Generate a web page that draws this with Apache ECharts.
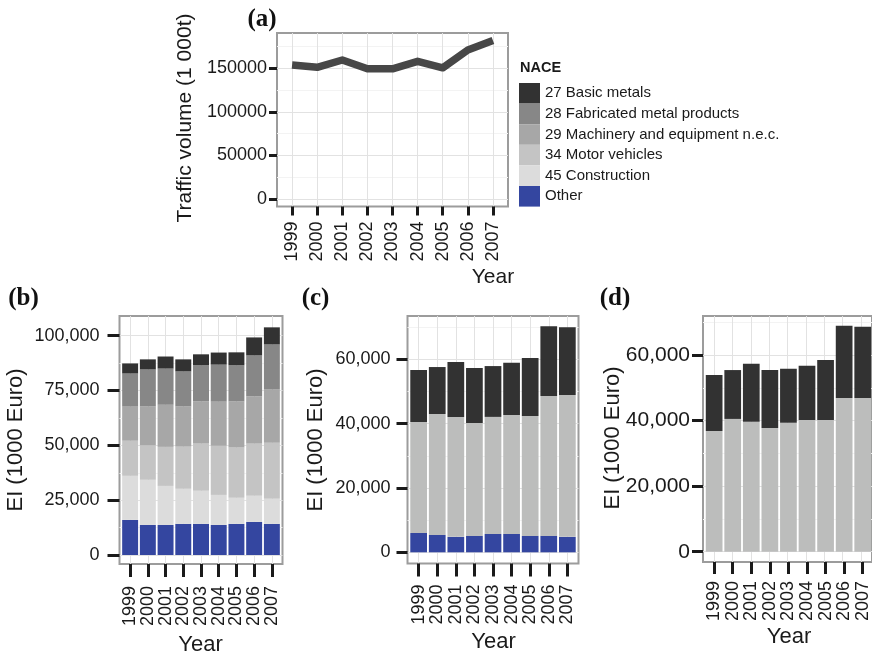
<!DOCTYPE html>
<html>
<head>
<meta charset="utf-8">
<script src="https://cdn.jsdelivr.net/npm/echarts@6/dist/echarts.min.js"></script>
<style>
  html, body { margin: 0; padding: 0; background: #ffffff; }
  #chart { width: 872px; height: 655px; }
</style>
</head>
<body>
<div id="chart"></div>
<script>
// ---- data ----
const years = ['1999', '2000', '2001', '2002', '2003', '2004', '2005', '2006', '2007'];

// (a) traffic volume, 1 000 t
const trafficVolume = [153800, 151100, 159500, 149400, 149400, 158000, 150500, 171000, 181900];
const trafficTicks = [0, 50000, 100000, 150000];
const trafficMinor = [25000, 75000, 125000, 175000];

// NACE sectors (legend order)
const naceNames = ['27 Basic metals', '28 Fabricated metal products', '29 Machinery and equipment n.e.c.',
                   '34 Motor vehicles', '45 Construction', 'Other'];

// (b) EI by sector, 1000 Euro
const bOther        = [16000, 13700, 13700, 14200, 14200, 13700, 14200, 15100, 14200];
const bConstruction = [20100, 20600, 17800, 16000, 15100, 13700, 11900, 11900, 11400];
const bMotor        = [16000, 15700, 17800, 19200, 21500, 22400, 22900, 23800, 25600];
const bMachinery    = [15550, 17700, 19200, 18300, 19200, 20100, 21000, 21500, 24200];
const bFabricated   = [15100, 16900, 16500, 16000, 16500, 16900, 16500, 18700, 20600];
const bBasic        = [4600, 4600, 5500, 5500, 5000, 5500, 5900, 8200, 7800];
const bTicks = [0, 25000, 50000, 75000, 100000];
const bMinor = [12500, 37500, 62500, 87500];

// (c) EI, 1000 Euro
const cOther = [6000, 5400, 4800, 5100, 5700, 5700, 5100, 5100, 4800];
const cMotor = [34500, 37600, 37300, 35100, 36400, 37000, 37300, 43500, 44100];
const cBasic = [16200, 14600, 17100, 17100, 15800, 16200, 18000, 21700, 21100];

// (d) EI, 1000 Euro
const dMotor = [36800, 40500, 39600, 37700, 39300, 40200, 40200, 46900, 46900];
const dBasic = [17100, 14900, 17700, 17700, 16500, 16500, 18300, 22000, 21700];

const cdTicks = [0, 20000, 40000, 60000];
const cdMinor = [10000, 30000, 50000, 70000];

// ---- styling ----
const SANS = "'Liberation Sans', Arial, Helvetica, sans-serif";
const SERIF = "'Liberation Serif', 'Times New Roman', serif";
const INK = '#1a1a1a';
const colors = {
  basic: '#323232', fabricated: '#878787', machinery: '#a7a7a7',
  motor: '#c4c4c4', construction: '#dcdcdc', other: '#3446a0', grey: '#bcbdbc'
};

const yearIdx = years.map((_, i) => i);
const withComma = v => String(Math.round(v)).replace(/\B(?=(\d{3})+(?!\d))/g, ',');

// Panel rectangles (outer frame). Categories sit 0.6 of a band in from each side,
// so the band area used by the category axis is width * 9 / 9.2.
const panels = [
  { left: 277,   top: 33,  width: 231, height: 173.5, yMin: -8600, yMax: 190500 },  // (a)
  { left: 119.5, top: 316, width: 163, height: 248,   yMin: -4100, yMax: 108970 },  // (b)
  { left: 407.5, top: 316, width: 171, height: 247.5, yMin: -3480, yMax: 73470 },   // (c)
  { left: 703,   top: 316, width: 171, height: 246,   yMin: -3140, yMax: 71890 }    // (d)
];
const EXPAND = 0.6;
const nCat = years.length;

const outerGrids = panels.map(p => ({
  left: p.left, top: p.top, width: p.width, height: p.height,
  show: true, backgroundColor: '#ffffff', borderColor: '#9c9c9c', borderWidth: 2
}));
const innerGrids = panels.map(p => {
  const band = p.width / (nCat - 1 + 2 * EXPAND);
  const inset = (EXPAND - 0.5) * band;
  return { left: p.left + inset, top: p.top, width: p.width - 2 * inset, height: p.height, show: false };
});

// outer x axis: only the vertical grid lines at the category centres
function xOuter(gridIndex) {
  return {
    type: 'value', gridIndex, min: -EXPAND, max: nCat - 1 + EXPAND,
    axisLine: { show: false, onZero: false },
    axisTick: { show: false, customValues: yearIdx },
    axisLabel: { show: false, customValues: yearIdx },
    splitLine: { show: true, lineStyle: { color: '#e2e2e2', width: 1 } }
  };
}
// inner category axis: carries the data, ticks and year labels
function xInner(gridIndex, tickLen, margin) {
  return {
    type: 'category', gridIndex, data: years, boundaryGap: true,
    axisLine: { show: false, onZero: false },
    axisTick: { show: true, alignWithLabel: true, interval: 0, length: tickLen, lineStyle: { color: INK, width: 3 } },
    axisLabel: { interval: 0, rotate: 90, margin, fontSize: 18, color: INK, fontFamily: SANS, hideOverlap: false },
    splitLine: { show: false }
  };
}

function yMajor(gridIndex, p, ticks, fmt, tickLen, margin, fontSize) {
  return {
    type: 'value', gridIndex, min: p.yMin, max: p.yMax,
    axisLine: { show: false, onZero: false },
    axisTick: { show: true, length: tickLen, customValues: ticks, lineStyle: { color: INK, width: 3 } },
    axisLabel: { customValues: ticks, margin, fontSize, color: INK, fontFamily: SANS, formatter: fmt,
                 showMinLabel: true, showMaxLabel: true },
    splitLine: { show: true, lineStyle: { color: '#e2e2e2', width: 1 } }
  };
}
function yMinor(gridIndex, p, ticks) {
  return {
    type: 'value', gridIndex, min: p.yMin, max: p.yMax, position: 'left',
    axisLine: { show: false, onZero: false },
    axisTick: { show: false, customValues: ticks },
    axisLabel: { show: false, customValues: ticks },
    splitLine: { show: true, lineStyle: { color: '#f3f3f3', width: 1 } }
  };
}
function yInner(gridIndex, p) {
  return { type: 'value', gridIndex, min: p.yMin, max: p.yMax, show: false, splitLine: { show: false } };
}

const grids = outerGrids.concat(innerGrids);
const xAxes = [
  xOuter(0), xOuter(1), xOuter(2), xOuter(3),
  xInner(4, 9, 15), xInner(5, 13, 22), xInner(6, 13, 21), xInner(7, 12, 19)
];
const yAxes = [
  yMajor(0, panels[0], trafficTicks, v => String(Math.round(v)), 8, 10, 18),
  yMinor(0, panels[0], trafficMinor),
  yMajor(1, panels[1], bTicks, withComma, 12, 20, 18),
  yMinor(1, panels[1], bMinor),
  yMajor(2, panels[2], cdTicks, withComma, 11, 17, 18),
  yMinor(2, panels[2], cdMinor),
  yMajor(3, panels[3], cdTicks, withComma, 11, 13, 21),
  yMinor(3, panels[3], cdMinor),
  yInner(4, panels[0]), yInner(5, panels[1]), yInner(6, panels[2]), yInner(7, panels[3])
];

function barSeries(name, data, color, panel) {
  return {
    type: 'bar', name, stack: 'panel' + panel, barWidth: '90%',
    xAxisIndex: 4 + panel, yAxisIndex: 8 + panel,
    itemStyle: { color },
    data, silent: true, z: 3
  };
}

const series = [
  {
    type: 'line', name: 'Traffic volume', xAxisIndex: 4, yAxisIndex: 8,
    data: trafficVolume, symbol: 'none', silent: true, z: 3,
    lineStyle: { color: '#474747', width: 7.5, join: 'round', cap: 'butt' }
  },
  barSeries(naceNames[5], bOther, colors.other, 1),
  barSeries(naceNames[4], bConstruction, colors.construction, 1),
  barSeries(naceNames[3], bMotor, colors.motor, 1),
  barSeries(naceNames[2], bMachinery, colors.machinery, 1),
  barSeries(naceNames[1], bFabricated, colors.fabricated, 1),
  barSeries(naceNames[0], bBasic, colors.basic, 1),

  barSeries(naceNames[5], cOther, colors.other, 2),
  barSeries(naceNames[3], cMotor, colors.grey, 2),
  barSeries(naceNames[0], cBasic, colors.basic, 2),

  barSeries(naceNames[3], dMotor, colors.grey, 3),
  barSeries(naceNames[0], dBasic, colors.basic, 3)
];

function label(text, x, y, size, opts) {
  const o = opts || {};
  return {
    type: 'text', x, y, rotation: o.rotation || 0, silent: true, z: 10,
    style: {
      text, fill: o.fill || INK, fontSize: size, fontFamily: o.family || SANS,
      fontWeight: o.weight || 'normal',
      align: 'center', verticalAlign: 'middle', textAlign: 'center', textVerticalAlign: 'middle'
    }
  };
}

const graphics = [
  // panel tags
  label('(a)', 262, 20, 25, { family: SERIF, weight: 'bold', fill: '#111' }),
  label('(b)', 23.5, 299, 25, { family: SERIF, weight: 'bold', fill: '#111' }),
  label('(c)', 315.5, 299, 25, { family: SERIF, weight: 'bold', fill: '#111' }),
  label('(d)', 615, 299, 25, { family: SERIF, weight: 'bold', fill: '#111' }),
  // axis titles
  label('Traffic volume (1 000t)', 185.5, 118, 21, { rotation: Math.PI / 2 }),
  label('Year', 493, 277.5, 21),
  label('EI (1000 Euro)', 16, 440, 22, { rotation: Math.PI / 2 }),
  label('Year', 200.5, 645, 22),
  label('EI (1000 Euro)', 315.5, 440, 22, { rotation: Math.PI / 2 }),
  label('Year', 493.5, 641.5, 22),
  label('EI (1000 Euro)', 612.5, 438, 22, { rotation: Math.PI / 2 }),
  label('Year', 789, 636.5, 22),
  // legend heading
  {
    type: 'text', x: 520, y: 68.3, silent: true,
    style: { text: 'NACE', fill: INK, fontSize: 14.5, fontWeight: 'bold', fontFamily: SANS,
             align: 'left', verticalAlign: 'middle', textAlign: 'left', textVerticalAlign: 'middle' }
  }
];

const chart = echarts.init(document.getElementById('chart'), null, { renderer: 'canvas' });
chart.setOption({
  animation: false,
  backgroundColor: '#ffffff',
  grid: grids,
  xAxis: xAxes,
  yAxis: yAxes,
  legend: {
    data: naceNames, orient: 'vertical', left: 519, top: 83,
    itemWidth: 21, itemHeight: 20.6, itemGap: 0, padding: 0, icon: 'rect',
    selectedMode: false,
    textStyle: { fontSize: 15, color: INK, fontFamily: SANS }
  },
  graphic: graphics,
  series
});
</script>
</body>
</html>
